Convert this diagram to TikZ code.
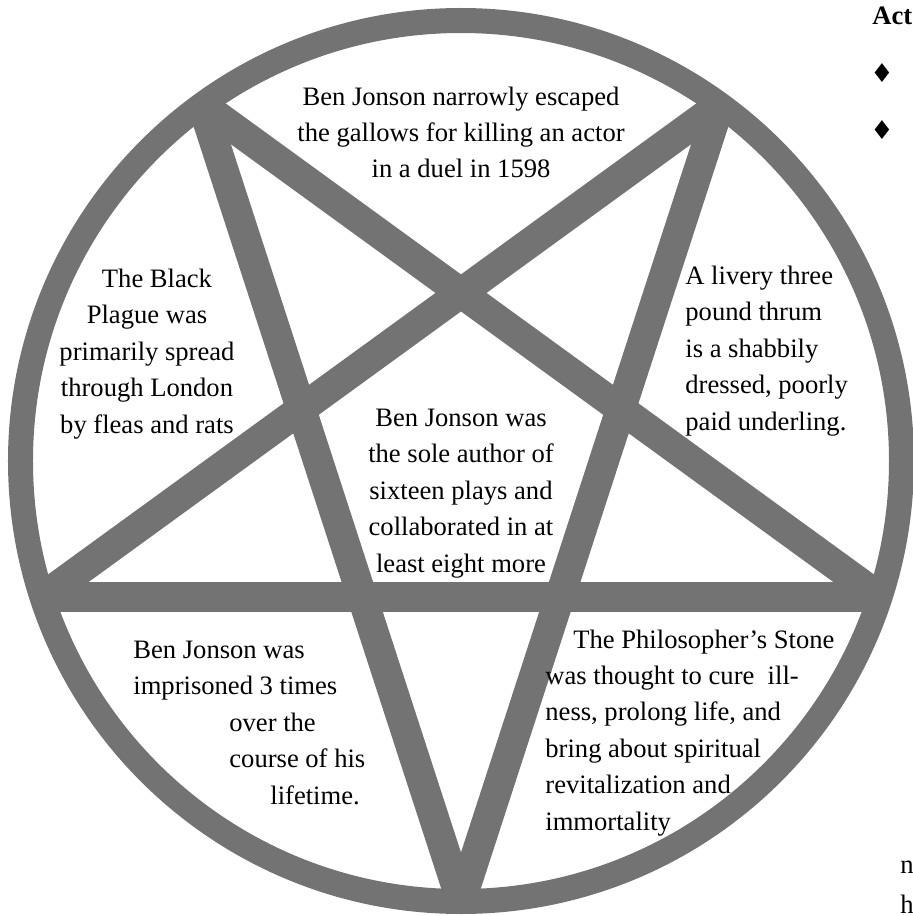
\documentclass[tikz,border=0pt]{standalone}
\usepackage{fontspec}
\setmainfont{Liberation Serif}
\newfontfamily\symfont{DejaVu Sans}
\usepackage{xcolor}
\definecolor{star-gray}{HTML}{737373}

\tikzset{
  fact/.style={font=\fontsize{13.3}{18.2}\selectfont, inner sep=0pt},
  ring/.style={draw=star-gray, line width=12.5pt},
  starline/.style={draw=star-gray, line width=15pt}
}

\begin{document}
\begin{tikzpicture}[x=0.5pt, y=0.5pt]
    % Diagram: inverted pentagram inside a ring, one fact per region.
    % Coordinates: 1 unit = 1 px of the 913x916 reference, origin at centre
    %   ring mid radius 440.5, star points on radius 440
    %   text nodes sit on the baseline of their last line
    \useasboundingbox (-461,-455) rectangle (452,461);
    \foreach \k/\ang in {0/270, 1/342, 2/54, 3/126, 4/198}
      \coordinate (v\k) at (\ang:440);
    \draw[starline] (v0) -- (v2);
    \draw[starline] (v2) -- (v4);
    \draw[starline] (v4) -- (v1);
    \draw[starline] (v1) -- (v3);
    \draw[starline] (v3) -- (v0);
    \draw[ring] (0,0) circle[radius=440.5];

    \node[fact, align=center, anchor=base] (escape) at (0,283)
      {Ben Jonson narrowly escaped\\the gallows for killing an actor\\in a duel in 1598};
    \node[fact, align=center, anchor=base] (plague) at (-314,28)
      {\hspace*{10pt}The Black\\Plague was\\primarily spread\\through London\\by fleas and rats};
    \node[fact, align=left, anchor=base west] (thrum) at (224,31)
      {A livery three\\pound thrum\\is a shabbily\\dressed, poorly\\paid underling.};
    \node[fact, align=center, anchor=base] (plays) at (0,-111)
      {Ben Jonson was\\the sole author of\\sixteen plays and\\collaborated in at\\least eight more};
    \node[fact, align=left, anchor=base west] (prison) at (-328,-343)
      {Ben Jonson was\\imprisoned 3 times\\\hspace*{48pt}over the\\\hspace*{48pt}course of his\\\hspace*{68.5pt}lifetime.};
    \node[fact, align=left, anchor=base west] (stone) at (84,-369)
      {\hspace*{14pt}The Philosopher’s Stone\\was thought to cure\ \ ill-\\ness, prolong life, and\\bring about spiritual\\revitalization and\\immortality};

    % cut-off text at the right edge
    \node[fact, anchor=base west, font=\fontsize{13.3}{18.2}\selectfont\bfseries] (act) at (411,436) {Act};
    \node[inner sep=0pt, font=\symfont\fontsize{13}{13}\selectfont] (bulletA) at (421,388) {♦};
    \node[inner sep=0pt, font=\symfont\fontsize{13}{13}\selectfont] (bulletB) at (421,331) {♦};
    \node[fact, anchor=base west] (fragN) at (439,-412) {n};
    \node[fact, anchor=base west] (fragH) at (439,-452) {h};
  \end{tikzpicture}
\end{document}
